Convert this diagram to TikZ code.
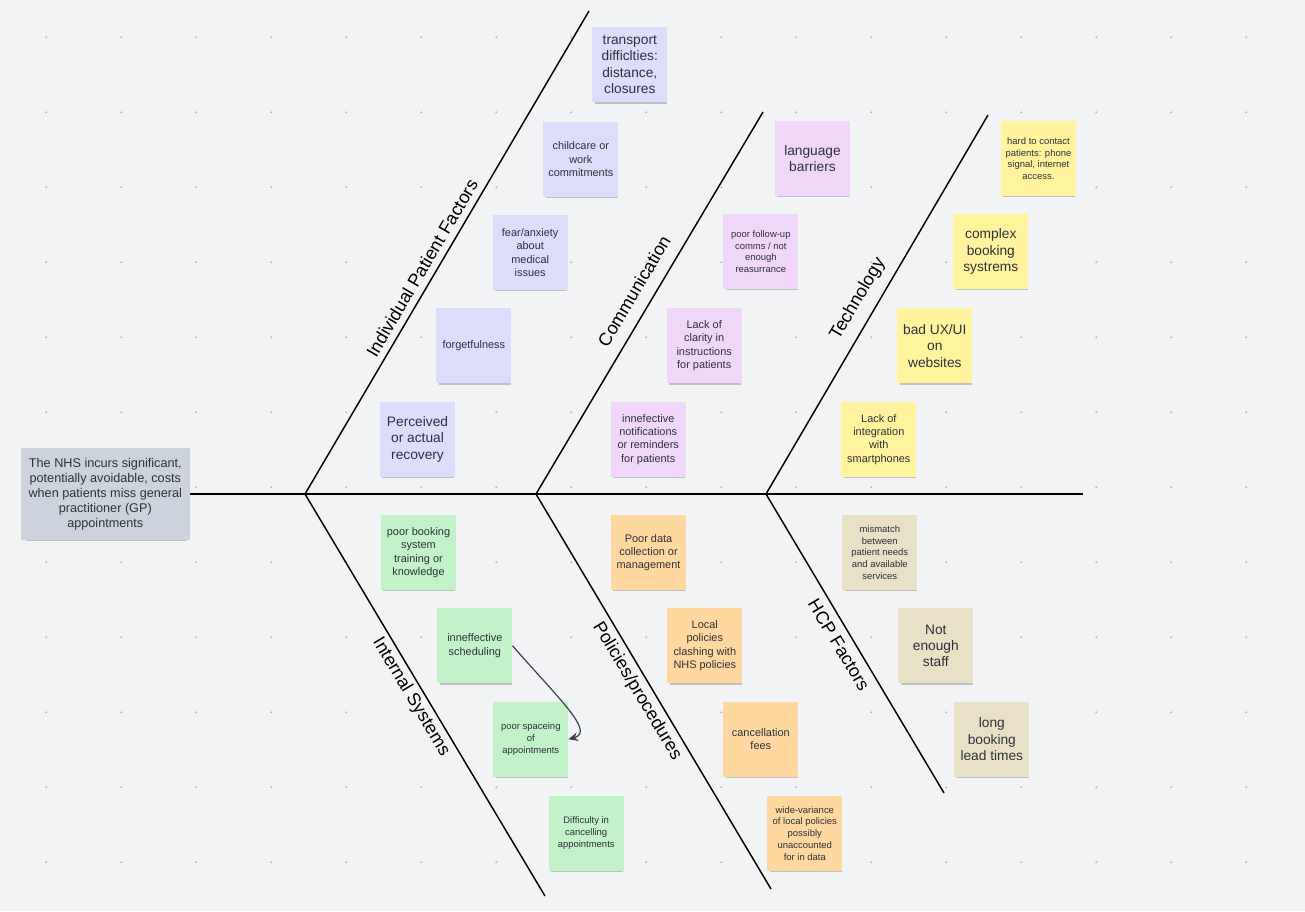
\documentclass[tikz,border=0pt]{standalone}
\usepackage{fontspec}
\setmainfont{Liberation Sans}
\usetikzlibrary{arrows.meta,shadows}
\definecolor{bg}{HTML}{F2F3F5}
\definecolor{dotc}{HTML}{B4B6BA}
\definecolor{maincol}{HTML}{CDD3DC}
\definecolor{purp}{HTML}{DCDCFB}
\definecolor{pink}{HTML}{F0D7F9}
\definecolor{yell}{HTML}{FFF49D}
\definecolor{gree}{HTML}{C2F3C8}
\definecolor{oran}{HTML}{FFD89F}
\definecolor{beig}{HTML}{E8E1C6}
\definecolor{notetext}{HTML}{2E313A}
\definecolor{arrowc}{HTML}{3C414B}
\tikzset{
  note/.style={minimum width=56.25pt, minimum height=56.25pt, inner sep=0pt, align=center,
    text=notetext, drop shadow={shadow xshift=0.6pt, shadow yshift=-2.2pt, shadow scale=0.96, opacity=0.3, fill=black!70}},
  bigt/.style={font=\fontsize{10.3}{12.3}\selectfont},
  medt/.style={font=\fontsize{8.2}{10}\selectfont},
  smlt/.style={font=\fontsize{7.1}{8.8}\selectfont},
  bone/.style={line width=1.1pt, black},
  catlabel/.style={font=\fontsize{13.5}{16}\selectfont, text=black, inner sep=0pt},
  link/.style={arrowc, line width=0.9pt, -{Stealth[length=7pt,width=6.5pt]}}
}
\begin{document}
\begin{tikzpicture}[x=0.75pt,y=-0.75pt]
\fill[bg] (0,0) rectangle (1305,911);
\useasboundingbox (0,0) rectangle (1305,911);
\foreach \i in {0,...,16}{\foreach \j in {0,...,11}{\fill[dotc] (46.3+75*\i,37.3+75*\j) circle (1.1);}}

% spine and bones
\coordinate (head) at (190,494);
\coordinate (tail) at (1083,494);
\coordinate (j1) at (305,494);
\coordinate (j2) at (536,494);
\coordinate (j3) at (766,494);
\coordinate (t1) at (589,11);
\coordinate (t2) at (763,112);
\coordinate (t3) at (988,115);
\coordinate (b1) at (545,896);
\coordinate (b2) at (771,889);
\coordinate (b3) at (944,793);
\draw[bone] (head) -- (tail);
\draw[bone] (j1) -- (t1);
\draw[bone] (j2) -- (t2);
\draw[bone] (j3) -- (t3);
\draw[bone] (j1) -- (b1);
\draw[bone] (j2) -- (b2);
\draw[bone] (j3) -- (b3);

% main problem box
\node[fill=maincol, minimum width=127pt, minimum height=69pt, inner sep=0pt, align=center, text=notetext,
  font=\fontsize{9.5}{11.25}\selectfont,
  drop shadow={shadow xshift=1pt, shadow yshift=-2.5pt, shadow scale=0.95, opacity=0.3, fill=black!70}] (problem) at (105.3,494)
  {The NHS incurs significant,\\potentially avoidable, costs\\when patients miss general\\practitioner (GP)\\appointments};

% category labels
\node[catlabel, rotate=59.5] (lipf) at (422,268) {Individual Patient Factors};
\node[catlabel, rotate=59.3] (lcom) at (634,291) {Communication};
\node[catlabel, rotate=59.6] (ltec) at (858,299) {Technology};
\node[catlabel, rotate=-59.1] (lint) at (411,697) {Internal Systems};
\node[catlabel, rotate=-59.1] (lpol) at (637,691) {Policies/procedures};
\node[catlabel, rotate=-59.2] (lhcp) at (839,645) {HCP Factors};

% Individual patient factors
\node[note, fill=purp, bigt] (transport) at (629.8,64.8) {transport\\difficlties:\\distance,\\closures};
\node[note, fill=purp, medt] (childcare) at (580.8,159.2) {childcare or\\work\\commitments};
\node[note, fill=purp, medt] (fear) at (530.2,252.5) {fear/anxiety\\about\\medical\\issues};
\node[note, fill=purp, medt] (forget) at (473.8,345.8) {forgetfulness};
\node[note, fill=purp, bigt] (perceived) at (417.5,439.2) {Perceived\\or actual\\recovery};

% Communication
\node[note, fill=pink, bigt] (language) at (812.5,158.5) {language\\barriers};
\node[note, fill=pink, smlt] (followup) at (760.8,251.5) {poor follow-up\\comms / not\\enough\\reasurrance};
\node[note, fill=pink, medt] (clarity) at (704.2,345.8) {Lack of\\clarity in\\instructions\\for patients};
\node[note, fill=pink, medt] (notif) at (648.2,439.2) {innefective\\notifications\\or reminders\\for patients};

% Technology
\node[note, fill=yell, smlt] (hard) at (1038.5,158.5) {hard to contact\\patients: phone\\signal, internet\\access.};
\node[note, fill=yell, bigt] (complex) at (990.8,251.5) {complex\\booking\\systrems};
\node[note, fill=yell, bigt] (badux) at (934.8,345.8) {bad UX/UI\\on\\websites};
\node[note, fill=yell, medt] (integ) at (878.8,439.2) {Lack of\\integration\\with\\smartphones};

% Internal systems
\node[note, fill=gree, medt] (training) at (418.5,552.5) {poor booking\\system\\training or\\knowledge};
\node[note, fill=gree, medt] (sched) at (474.8,645.8) {inneffective\\scheduling};
\node[note, fill=gree, smlt] (spacing) at (530.8,739.2) {poor spaceing\\of\\appointments};
\node[note, fill=gree, smlt] (cancel) at (586.2,833.2) {Difficulty in\\cancelling\\appointments};

% Policies / procedures
\node[note, fill=oran, medt] (data) at (648.5,552.5) {Poor data\\collection or\\management};
\node[note, fill=oran, medt] (local) at (704.8,645.8) {Local\\policies\\clashing with\\NHS policies};
\node[note, fill=oran, medt] (fees) at (760.8,739.2) {cancellation\\fees};
\node[note, fill=oran, smlt] (variance) at (804.8,833.2) {wide-variance\\of local policies\\possibly\\unaccounted\\for in data};

% HCP factors
\node[note, fill=beig, smlt] (mismatch) at (879.8,552.5) {mismatch\\between\\patient needs\\and available\\services};
\node[note, fill=beig, bigt] (staff) at (935.8,645.8) {Not\\enough\\staff};
\node[note, fill=beig, bigt] (lead) at (991.8,739.2) {long\\booking\\lead times};

% connector
\draw[link] (sched.east) .. controls (560,700) and (595,732) .. (spacing.east);
\end{tikzpicture}
\end{document}
